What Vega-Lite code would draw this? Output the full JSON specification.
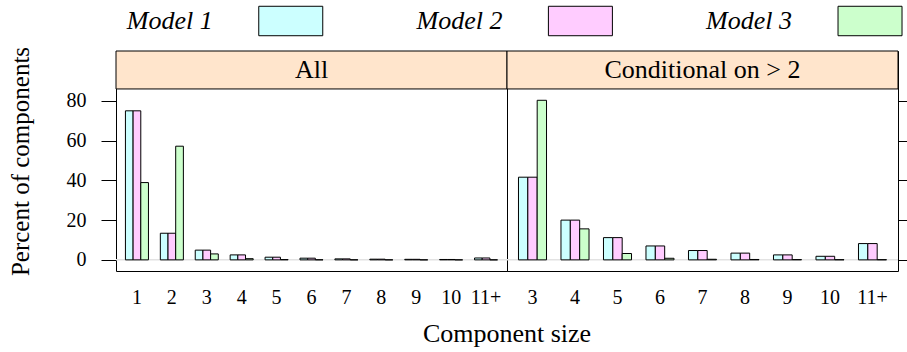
{
  "$schema": "https://vega.github.io/schema/vega-lite/v6.json",
  "padding": {"left": 8, "top": 4, "right": 0, "bottom": 0},
  "config": {
    "font": "Liberation Serif",
    "view": {"stroke": "black", "strokeWidth": 1},
    "axis": {"labelFont": "Liberation Serif", "titleFont": "Liberation Serif", "labelFontWeight": "normal", "labelColor": "black", "titleColor": "black", "titleFontWeight": "normal", "grid": false, "domain": false}
  },
  "datasets": {
    "bars": [
      {"panel": "All", "size": "1", "model": "Model 1", "value": 75.0},
      {"panel": "All", "size": "1", "model": "Model 2", "value": 75.0},
      {"panel": "All", "size": "1", "model": "Model 3", "value": 38.9},
      {"panel": "All", "size": "2", "model": "Model 1", "value": 13.4},
      {"panel": "All", "size": "2", "model": "Model 2", "value": 13.4},
      {"panel": "All", "size": "2", "model": "Model 3", "value": 57.2},
      {"panel": "All", "size": "3", "model": "Model 1", "value": 4.9},
      {"panel": "All", "size": "3", "model": "Model 2", "value": 4.9},
      {"panel": "All", "size": "3", "model": "Model 3", "value": 3.0},
      {"panel": "All", "size": "4", "model": "Model 1", "value": 2.5},
      {"panel": "All", "size": "4", "model": "Model 2", "value": 2.5},
      {"panel": "All", "size": "4", "model": "Model 3", "value": 0.6},
      {"panel": "All", "size": "5", "model": "Model 1", "value": 1.35},
      {"panel": "All", "size": "5", "model": "Model 2", "value": 1.35},
      {"panel": "All", "size": "5", "model": "Model 3", "value": 0.15},
      {"panel": "All", "size": "6", "model": "Model 1", "value": 0.85},
      {"panel": "All", "size": "6", "model": "Model 2", "value": 0.85},
      {"panel": "All", "size": "6", "model": "Model 3", "value": 0.05},
      {"panel": "All", "size": "7", "model": "Model 1", "value": 0.5},
      {"panel": "All", "size": "7", "model": "Model 2", "value": 0.5},
      {"panel": "All", "size": "7", "model": "Model 3", "value": 0.02},
      {"panel": "All", "size": "8", "model": "Model 1", "value": 0.35},
      {"panel": "All", "size": "8", "model": "Model 2", "value": 0.35},
      {"panel": "All", "size": "8", "model": "Model 3", "value": 0.01},
      {"panel": "All", "size": "9", "model": "Model 1", "value": 0.28},
      {"panel": "All", "size": "9", "model": "Model 2", "value": 0.28},
      {"panel": "All", "size": "9", "model": "Model 3", "value": 0.01},
      {"panel": "All", "size": "10", "model": "Model 1", "value": 0.2},
      {"panel": "All", "size": "10", "model": "Model 2", "value": 0.2},
      {"panel": "All", "size": "10", "model": "Model 3", "value": 0.0},
      {"panel": "All", "size": "11+", "model": "Model 1", "value": 0.95},
      {"panel": "All", "size": "11+", "model": "Model 2", "value": 0.95},
      {"panel": "All", "size": "11+", "model": "Model 3", "value": 0.0},
      {"panel": "Conditional on > 2", "size": "3", "model": "Model 1", "value": 41.6},
      {"panel": "Conditional on > 2", "size": "3", "model": "Model 2", "value": 41.6},
      {"panel": "Conditional on > 2", "size": "3", "model": "Model 3", "value": 80.3},
      {"panel": "Conditional on > 2", "size": "4", "model": "Model 1", "value": 20.0},
      {"panel": "Conditional on > 2", "size": "4", "model": "Model 2", "value": 20.0},
      {"panel": "Conditional on > 2", "size": "4", "model": "Model 3", "value": 15.6},
      {"panel": "Conditional on > 2", "size": "5", "model": "Model 1", "value": 11.2},
      {"panel": "Conditional on > 2", "size": "5", "model": "Model 2", "value": 11.2},
      {"panel": "Conditional on > 2", "size": "5", "model": "Model 3", "value": 3.2},
      {"panel": "Conditional on > 2", "size": "6", "model": "Model 1", "value": 7.0},
      {"panel": "Conditional on > 2", "size": "6", "model": "Model 2", "value": 7.0},
      {"panel": "Conditional on > 2", "size": "6", "model": "Model 3", "value": 0.8},
      {"panel": "Conditional on > 2", "size": "7", "model": "Model 1", "value": 4.7},
      {"panel": "Conditional on > 2", "size": "7", "model": "Model 2", "value": 4.7},
      {"panel": "Conditional on > 2", "size": "7", "model": "Model 3", "value": 0.3},
      {"panel": "Conditional on > 2", "size": "8", "model": "Model 1", "value": 3.4},
      {"panel": "Conditional on > 2", "size": "8", "model": "Model 2", "value": 3.4},
      {"panel": "Conditional on > 2", "size": "8", "model": "Model 3", "value": 0.2},
      {"panel": "Conditional on > 2", "size": "9", "model": "Model 1", "value": 2.5},
      {"panel": "Conditional on > 2", "size": "9", "model": "Model 2", "value": 2.5},
      {"panel": "Conditional on > 2", "size": "9", "model": "Model 3", "value": 0.15},
      {"panel": "Conditional on > 2", "size": "10", "model": "Model 1", "value": 1.8},
      {"panel": "Conditional on > 2", "size": "10", "model": "Model 2", "value": 1.8},
      {"panel": "Conditional on > 2", "size": "10", "model": "Model 3", "value": 0.1},
      {"panel": "Conditional on > 2", "size": "11+", "model": "Model 1", "value": 8.2},
      {"panel": "Conditional on > 2", "size": "11+", "model": "Model 2", "value": 8.2},
      {"panel": "Conditional on > 2", "size": "11+", "model": "Model 3", "value": 0.1}
    ]
  },
  "spacing": 8,
  "vconcat": [
    {
      "width": 782,
      "height": 30,
      "view": {"stroke": null},
      "data": {"name": "bars"},
      "transform": [{"aggregate": [{"op": "count", "as": "n"}], "groupby": ["model"]}],
      "encoding": {
        "x": {"field": "model", "type": "nominal", "scale": {"type": "point", "domain": ["Model 1", "Model 2", "Model 3"], "padding": 0.35, "align": 0.862}, "axis": null}
      },
      "layer": [
        {
          "mark": {"type": "point", "shape": "M-1,-0.46H1V0.46H-1Z", "size": 4096, "filled": true, "opacity": 1, "stroke": "black", "strokeWidth": 1},
          "encoding": {
            "color": {"field": "model", "type": "nominal", "scale": {"domain": ["Model 1", "Model 2", "Model 3"], "range": ["#CCFFFF", "#FFCCFF", "#CCFFCC"]}, "legend": null}
          }
        },
        {
          "mark": {"type": "text", "font": "Liberation Serif", "fontWeight": "normal", "align": "right", "dx": -78, "dy": 8, "baseline": "alphabetic", "fontStyle": "italic", "fontSize": 26, "color": "black"},
          "encoding": {"text": {"field": "model"}}
        }
      ]
    },
    {
      "data": {"name": "bars"},
      "facet": {
        "column": {
          "field": "panel", "type": "nominal", "sort": ["All", "Conditional on > 2"],
          "header": {"title": "Component size", "titleOrient": "bottom", "labelOrient": "bottom", "labels": false, "titleFont": "Liberation Serif", "titleFontSize": 26, "titleFontWeight": "normal", "titleColor": "black", "titlePadding": 40}
        }
      },
      "spacing": 0,
      "bounds": "flush",
      "resolve": {"scale": {"x": "independent", "xOffset": "independent"}},
      "spec": {
        "width": 391,
        "height": 220,
        "resolve": {"axis": {"y": "independent"}},
        "layer": [
          {
            "transform": [{"aggregate": [{"op": "count", "as": "n"}], "groupby": ["panel"]}],
            "mark": {"type": "rect", "fill": "#FFE5CC", "stroke": "black", "strokeWidth": 1},
            "encoding": {
              "y": {"datum": 86, "type": "quantitative", "scale": {"domain": [-5.6, 105.1], "nice": false, "zero": false}, "axis": null},
              "y2": {"datum": 105.1}
            }
          },
          {
            "transform": [{"aggregate": [{"op": "count", "as": "n"}], "groupby": ["panel"]}],
            "mark": {"type": "text", "font": "Liberation Serif", "fontWeight": "normal", "fontSize": 26, "baseline": "middle", "color": "black"},
            "encoding": {
              "y": {"datum": 95.55, "type": "quantitative", "scale": {"domain": [-5.6, 105.1], "nice": false, "zero": false}, "axis": null},
              "text": {"field": "panel"}
            }
          },
          {
            "transform": [{"aggregate": [{"op": "count", "as": "n"}], "groupby": ["panel"]}],
            "mark": {"type": "rule", "color": "#E2E2E2", "strokeWidth": 1.5},
            "encoding": {
              "y": {"datum": 0, "type": "quantitative", "scale": {"domain": [-5.6, 105.1], "nice": false, "zero": false},
                    "axis": {"orient": "right", "labels": false, "title": null, "values": [0, 20, 40, 60, 80], "tickSize": 15, "tickColor": "black", "domain": false, "grid": false}}
            }
          },
          {
            "mark": {"type": "bar", "stroke": "black", "strokeWidth": 1},
            "encoding": {
              "x": {"field": "size", "type": "nominal", "sort": ["1", "2", "3", "4", "5", "6", "7", "8", "9", "10", "11+"],
                    "scale": {"paddingInner": 0.34, "paddingOuter": 0.27},
                    "axis": {"title": null, "ticks": false, "tickSize": 0, "labelPadding": 16, "labelFont": "Liberation Serif", "labelFontWeight": "normal", "labelFontSize": 20, "labelAngle": 0, "labelOverlap": false, "domain": false}},
              "xOffset": {"field": "model", "type": "nominal", "sort": ["Model 1", "Model 2", "Model 3"], "scale": {"paddingInner": 0, "paddingOuter": 0}},
              "y": {"field": "value", "type": "quantitative", "scale": {"domain": [-5.6, 105.1], "nice": false, "zero": false},
                    "axis": {"title": "Percent of components", "values": [0, 20, 40, 60, 80], "tickSize": 15, "tickColor": "black", "labelPadding": 15, "labelFont": "Liberation Serif", "labelFontWeight": "normal", "titleFont": "Liberation Serif", "labelFontSize": 20, "titleFontSize": 25, "titlePadding": 33, "domain": false, "grid": false}},
              "y2": {"datum": 0},
              "color": {"field": "model", "type": "nominal", "scale": {"domain": ["Model 1", "Model 2", "Model 3"], "range": ["#CCFFFF", "#FFCCFF", "#CCFFCC"]}, "legend": null}
            }
          }
        ]
      }
    }
  ]
}
